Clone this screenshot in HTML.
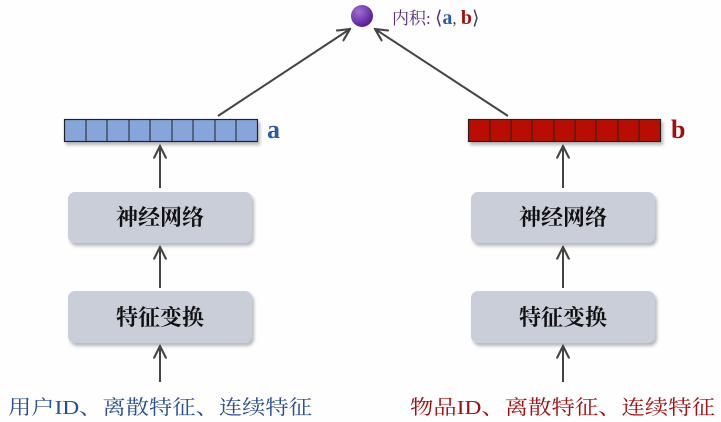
<!DOCTYPE html>
<html><head><meta charset="utf-8"><style>
html,body{margin:0;padding:0;background:#fefefe;}
svg{display:block;}
text{font-family:"Liberation Serif","Noto Serif CJK SC",serif;}
</style></head><body>
<svg width="721" height="422" viewBox="0 0 721 422" xmlns="http://www.w3.org/2000/svg">
<defs>
<radialGradient id="g" cx="0.35" cy="0.3" r="0.7"><stop offset="0" stop-color="#a070d0"/><stop offset="1" stop-color="#5a1e9a"/></radialGradient>
<marker id="ar" viewBox="0 0 10 10" refX="9" refY="5" markerWidth="7" markerHeight="7" orient="auto-start-reverse"><path d="M0,0.5 L9,5 L0,9.5" fill="none" stroke="#444" stroke-width="1.5"/></marker>
<filter id="sh" x="-10%" y="-10%" width="130%" height="140%"><feDropShadow dx="2" dy="3" stdDeviation="1.5" flood-color="#888" flood-opacity="0.6"/></filter>
</defs>
<circle cx="362" cy="16" r="11" fill="url(#g)"/>
<text x="392" y="24" font-size="17" fill="#5a2d82">内积: <tspan font-size="19">⟨</tspan><tspan fill="#2d5aa8" font-weight="bold" font-size="20">a</tspan><tspan fill="#444">,</tspan> <tspan fill="#a01010" font-weight="bold" font-size="20">b</tspan><tspan font-size="19" fill="#444">⟩</tspan></text>
<line x1="218" y1="116" x2="350" y2="29" stroke="#444" stroke-width="2" marker-end="url(#ar)"/>
<line x1="508" y1="116" x2="375" y2="29" stroke="#444" stroke-width="2" marker-end="url(#ar)"/>
<g stroke="#222" stroke-width="1.2" fill="#86a5db" filter="url(#sh)">
<rect x="64.5" y="119.5" width="193" height="22"/>
</g>
<g stroke="#222" stroke-width="1">
<line x1="86" y1="119.5" x2="86" y2="141.5"/><line x1="107" y1="119.5" x2="107" y2="141.5"/><line x1="129" y1="119.5" x2="129" y2="141.5"/><line x1="150" y1="119.5" x2="150" y2="141.5"/><line x1="172" y1="119.5" x2="172" y2="141.5"/><line x1="193" y1="119.5" x2="193" y2="141.5"/><line x1="215" y1="119.5" x2="215" y2="141.5"/><line x1="236" y1="119.5" x2="236" y2="141.5"/>
</g>
<g stroke="#222" stroke-width="1.2" fill="#b80f05" filter="url(#sh)">
<rect x="468.5" y="119.5" width="192" height="22"/>
</g>
<g stroke="#222" stroke-width="1">
<line x1="490" y1="119.5" x2="490" y2="141.5"/><line x1="511" y1="119.5" x2="511" y2="141.5"/><line x1="532" y1="119.5" x2="532" y2="141.5"/><line x1="554" y1="119.5" x2="554" y2="141.5"/><line x1="575" y1="119.5" x2="575" y2="141.5"/><line x1="596" y1="119.5" x2="596" y2="141.5"/><line x1="618" y1="119.5" x2="618" y2="141.5"/><line x1="639" y1="119.5" x2="639" y2="141.5"/>
</g>
<text x="267" y="138" font-size="26" font-weight="bold" fill="#2d5aa8">a</text>
<text x="671" y="138" font-size="26" font-weight="bold" fill="#a01010">b</text>
<g fill="#c9ced8" filter="url(#sh)">
<rect x="68" y="192" width="184" height="51" rx="7"/>
<rect x="68" y="291" width="184" height="52" rx="7"/>
<rect x="471" y="192" width="184" height="51" rx="7"/>
<rect x="471" y="291" width="184" height="52" rx="7"/>
</g>
<g font-size="22" font-weight="bold" fill="#111" text-anchor="middle">
<text x="160" y="225">神经网络</text>
<text x="160" y="325">特征变换</text>
<text x="563" y="225">神经网络</text>
<text x="563" y="325">特征变换</text>
</g>
<g stroke="#444" stroke-width="2" marker-end="url(#ar)">
<line x1="160" y1="188" x2="160" y2="146"/>
<line x1="160" y1="288" x2="160" y2="247"/>
<line x1="160" y1="382" x2="160" y2="346"/>
<line x1="563" y1="188" x2="563" y2="146"/>
<line x1="563" y1="288" x2="563" y2="247"/>
<line x1="563" y1="382" x2="563" y2="346"/>
</g>
<text x="8" y="414" font-size="20" fill="#2a4f91" textLength="304" lengthAdjust="spacingAndGlyphs">用户ID、离散特征、连续特征</text>
<text x="410" y="414" font-size="20" fill="#a01010" textLength="305" lengthAdjust="spacingAndGlyphs">物品ID、离散特征、连续特征</text>
</svg>
</body></html>
